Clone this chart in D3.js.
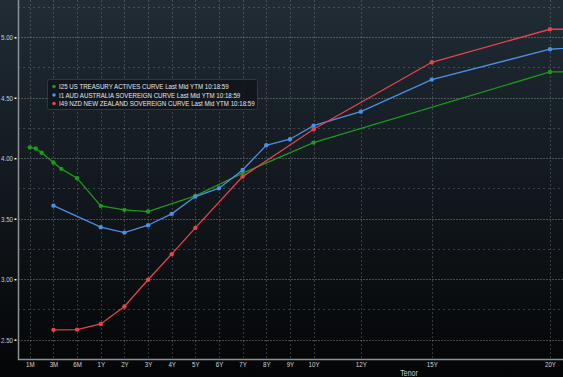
<!DOCTYPE html>
<html>
<head>
<meta charset="utf-8">
<script src="https://cdn.jsdelivr.net/npm/d3@7"></script>
<style>
  html, body { margin: 0; padding: 0; background: #000; }
  svg { display: block; }
</style>
</head>
<body>
<svg id="chart"></svg>
<script>
// tenors: label, maturity in years, slot on the (uneven) Bloomberg tenor axis
const tenorLabels = ['1M', '3M', '6M', '1Y', '2Y', '3Y', '4Y', '5Y', '6Y', '7Y', '8Y', '9Y', '10Y', '12Y', '15Y', '20Y', '30Y'];
const tenorYears = [1 / 12, 0.25, 0.5, 1, 2, 3, 4, 5, 6, 7, 8, 9, 10, 12, 15, 20, 30];
const tenorSlots = [0, 1, 2, 3, 4, 5, 6, 7, 8, 9, 10, 11, 12, 14, 17, 22, 32];

const yTicks = [2.5, 3.0, 3.5, 4.0, 4.5, 5.0];

// series (maturity in years / yield)
const usYears = [1 / 12, 1.5 / 12, 2 / 12, 0.25, 4 / 12, 0.5, 1, 2, 3, 5, 7, 10, 20, 30];
const usYield = [4.09, 4.08, 4.045, 3.965, 3.912, 3.835, 3.606, 3.573, 3.559, 3.689, 3.876, 4.129, 4.713, 4.715];

const audYears = [0.25, 1, 2, 3, 4, 5, 6, 7, 8, 9, 10, 12, 15, 20, 30];
const audYield = [3.608, 3.43, 3.385, 3.446, 3.54, 3.683, 3.752, 3.903, 4.107, 4.157, 4.269, 4.385, 4.65, 4.901, 5.03];

const nzdYears = [0.25, 0.5, 1, 2, 3, 4, 5, 7, 10, 15, 20, 30];
const nzdYield = [2.581, 2.583, 2.63, 2.774, 2.995, 3.207, 3.424, 3.848, 4.24, 4.793, 5.066, 5.07];

const seriesNames = [
  'I25 US TREASURY ACTIVES CURVE Last Mid YTM 10:18:59',
  'I1 AUD AUSTRALIA SOVEREIGN CURVE Last Mid YTM 10:18:59',
  'I49 NZD NEW ZEALAND SOVEREIGN CURVE Last Mid YTM 10:18:59'
];
const seriesColors = ['#1b9a1b', '#4d8fe6', '#e8434b'];

const width = 563;
const height = 377;
const left = 18;
const bottom = 359;
const font = 'Liberation Sans, Arial, sans-serif';

const svg = d3.select('#chart').attr('width', width).attr('height', height);

// background
const defs = svg.append('defs');
const bg = defs.append('linearGradient').attr('id', 'bg')
  .attr('x1', '0%').attr('y1', '0%').attr('x2', '0%').attr('y2', '100%');
bg.append('stop').attr('offset', '0%').style('stop-color', '#212c35');
bg.append('stop').attr('offset', '45%').style('stop-color', '#131a20');
bg.append('stop').attr('offset', '100%').style('stop-color', '#040506');
svg.append('rect').attr('width', width).attr('height', height).attr('fill', 'url(#bg)');

defs.append('clipPath').attr('id', 'plot')
  .append('rect').attr('x', left).attr('y', 0).attr('width', width - left).attr('height', bottom);

// scales
const slot = d3.scaleLinear().domain([-0.5, 22.55]).range([left, width]);
const x = d3.scaleLinear().domain(tenorYears).range(tenorSlots.map(s => slot(s)));
const y = d3.scaleLinear().domain([2.34, 5.308]).range([bottom, 0]);

// grid
const grid = svg.append('g');
grid.selectAll('line.h')
  .data(d3.range(2.5, 5.3, 0.25))
  .enter().append('line')
  .attr('x1', left).attr('x2', width)
  .attr('y1', d => Math.round(y(d)) + 0.5).attr('y2', d => Math.round(y(d)) + 0.5)
  .attr('stroke', '#8a949c')
  .attr('stroke-opacity', (d, i) => i % 2 === 0 ? 0.45 : 0.35)
  .attr('stroke-dasharray', (d, i) => i % 2 === 0 ? '2,1' : '2,3');
grid.selectAll('line.v')
  .data(tenorYears.slice(0, 16))
  .enter().append('line')
  .attr('x1', d => Math.round(x(d)) + 0.5).attr('x2', d => Math.round(x(d)) + 0.5)
  .attr('y1', 0).attr('y2', bottom)
  .attr('stroke', '#8a949c')
  .attr('stroke-opacity', 0.35)
  .attr('stroke-dasharray', '2,2');

// axes
const yAxis = d3.axisLeft(y).tickValues(yTicks).tickFormat(d3.format('.2f')).tickSize(2).tickPadding(1.5);
const ya = svg.append('g').attr('transform', `translate(${left - 1.5},0)`).call(yAxis);
ya.select('.domain').remove();
ya.selectAll('line').attr('stroke', '#fff').attr('stroke-width', 1.5);
ya.selectAll('text').attr('fill', '#c9ced2').attr('font-size', 7.5).attr('font-family', font);

const xAxis = d3.axisBottom(x).tickValues(tenorYears.slice(0, 16))
  .tickFormat((d, i) => tenorLabels[i]).tickSize(0).tickPadding(3);
const xa = svg.append('g').attr('transform', `translate(0,${bottom})`).call(xAxis);
xa.select('.domain').remove();
xa.selectAll('text').attr('fill', '#d2d6d9').attr('font-size', 7.5).attr('font-family', font);

svg.append('line').attr('x1', left).attr('x2', width).attr('y1', bottom + 0.5).attr('y2', bottom + 0.5)
  .attr('stroke', '#8c9196').attr('stroke-width', 1.5);
svg.append('line').attr('x1', left + 0.5).attr('x2', left + 0.5).attr('y1', 0).attr('y2', bottom + 1)
  .attr('stroke', '#8c9196').attr('stroke-width', 1.5);

svg.append('text').attr('x', 409).attr('y', 376)
  .attr('text-anchor', 'middle').attr('fill', '#c9ced2').attr('font-size', 8.5)
  .attr('font-family', font)
  .text('Tenor');

// curves
const series = [
  usYears.map((t, i) => ({ t, v: usYield[i] })),
  audYears.map((t, i) => ({ t, v: audYield[i] })),
  nzdYears.map((t, i) => ({ t, v: nzdYield[i] }))
];
const line = d3.line().x(d => x(d.t)).y(d => y(d.v));
const plot = svg.append('g').attr('clip-path', 'url(#plot)');
series.forEach((data, k) => {
  const g = plot.append('g');
  g.append('path').attr('d', line(data))
    .attr('fill', 'none').attr('stroke', seriesColors[k]).attr('stroke-width', 1.3);
  g.selectAll('circle').data(data).enter().append('circle')
    .attr('cx', d => x(d.t)).attr('cy', d => y(d.v)).attr('r', 2.2)
    .attr('fill', seriesColors[k]);
});

// legend
const legend = svg.append('g');
legend.append('rect').attr('x', 47.5).attr('y', 79.5).attr('width', 210).attr('height', 30).attr('rx', 2)
  .attr('fill', '#10151a').attr('fill-opacity', 0.9).attr('stroke', '#30373e');
seriesNames.forEach((name, k) => {
  legend.append('circle').attr('cx', 54).attr('cy', 86.5 + k * 8.5).attr('r', 1.8).attr('fill', seriesColors[k]);
  legend.append('text').attr('x', 59).attr('y', 89 + k * 8.5)
    .attr('fill', '#e3e6e8').attr('font-size', 7.5).attr('font-family', font)
    .text(name);
});

// the terminal font is condensed: squeeze every label
svg.selectAll('text').each(function () {
  const len = this.getComputedTextLength();
  d3.select(this).attr('textLength', len * 0.82).attr('lengthAdjust', 'spacingAndGlyphs');
});
</script>
</body>
</html>
